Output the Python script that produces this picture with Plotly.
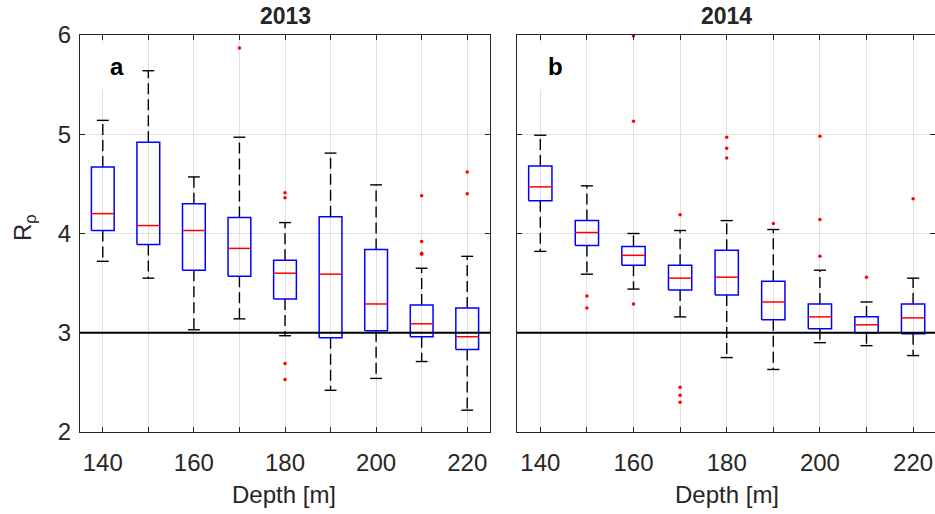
import plotly.graph_objects as go

depths = [140, 150, 160, 170, 180, 190, 200, 210, 220]
major_ticks = [140, 160, 180, 200, 220]
minor_ticks = [150, 170, 190, 210]
y_ticks = [2, 3, 4, 5, 6]
threshold = 3.0

# 2013 (panel a)
a_upper = [5.14, 5.64, 4.57, 4.97, 4.11, 4.81, 4.49, 3.65, 3.77]
a_q3 = [4.67, 4.92, 4.30, 4.16, 3.73, 4.17, 3.84, 3.28, 3.25]
a_med = [4.20, 4.08, 4.03, 3.85, 3.60, 3.59, 3.29, 3.09, 2.96]
a_q1 = [4.03, 3.89, 3.63, 3.57, 3.34, 2.95, 3.02, 2.96, 2.83]
a_lower = [3.72, 3.55, 3.03, 3.14, 2.97, 2.42, 2.54, 2.71, 2.22]
a_out = [[], [], [], [5.87], [4.41, 4.36, 2.69, 2.53], [], [],
         [4.38, 3.92, 3.80, 3.79], [4.62, 4.40]]

# 2014 (panel b)
b_upper = [4.99, 4.48, 4.00, 4.03, 4.13, 4.04, 3.63, 3.31, 3.55]
b_q3 = [4.68, 4.13, 3.87, 3.68, 3.83, 3.52, 3.29, 3.16, 3.29]
b_med = [4.47, 4.01, 3.78, 3.55, 3.56, 3.31, 3.16, 3.08, 3.15]
b_q1 = [4.33, 3.88, 3.68, 3.43, 3.38, 3.13, 3.04, 3.00, 2.99]
b_lower = [3.82, 3.59, 3.44, 3.16, 2.75, 2.63, 2.90, 2.87, 2.77]
b_out = [[], [3.37, 3.25], [5.99, 5.13, 3.29], [4.19, 2.45, 2.37, 2.30],
         [4.97, 4.86, 4.76], [4.10], [4.98, 4.14, 3.77], [3.56], [4.35]]

BOX_HW = 2.5
CAP_HW = 1.3
FONT = "Liberation Sans, Arial, Helvetica, sans-serif"
TXT = "#262626"
GRID = "#e0e0e0"
W, H = 935, 514
L_PX, R_PX, T_PX, B_PX = 0, 0, 35, 82
plot_h = H - T_PX - B_PX

fig = go.Figure()


def add_panel(xa, ya, up, q3, med, q1, lo, outs):
    bx, by, mx, my, wx, wy, cx, cy, ox, oy = [], [], [], [], [], [], [], [], [], []
    for d, u, t, m, b, l, o in zip(depths, up, q3, med, q1, lo, outs):
        bx += [d - BOX_HW, d + BOX_HW, d + BOX_HW, d - BOX_HW, d - BOX_HW, None]
        by += [b, b, t, t, b, None]
        mx += [d - BOX_HW, d + BOX_HW, None]
        my += [m, m, None]
        wx += [d, d, None, d, d, None]
        wy += [t, u, None, b, l, None]
        cx += [d - CAP_HW, d + CAP_HW, None, d - CAP_HW, d + CAP_HW, None]
        cy += [u, u, None, l, l, None]
        for v in o:
            ox.append(d)
            oy.append(v)
    common = dict(xaxis=xa, yaxis=ya, showlegend=False, hoverinfo="skip")
    fig.add_trace(go.Scatter(x=wx, y=wy, mode="lines",
                             line=dict(color="black", width=1.4, dash="11px,5px"), **common))
    fig.add_trace(go.Scatter(x=cx, y=cy, mode="lines",
                             line=dict(color="black", width=1.4), **common))
    fig.add_trace(go.Scatter(x=bx, y=by, mode="lines",
                             line=dict(color="#0000ff", width=1.5), **common))
    fig.add_trace(go.Scatter(x=mx, y=my, mode="lines",
                             line=dict(color="#ff0000", width=1.5), **common))
    fig.add_trace(go.Scatter(x=ox, y=oy, mode="markers",
                             marker=dict(color="#ff0000", size=3.5), **common))


add_panel("x", "y", a_upper, a_q3, a_med, a_q1, a_lower, a_out)
add_panel("x2", "y2", b_upper, b_q3, b_med, b_q1, b_lower, b_out)

xcommon = dict(range=[135, 225], tickvals=major_ticks,
               ticks="inside", ticklen=5, tickcolor=TXT, showline=True,
               linecolor=TXT, linewidth=1, mirror="allticks", showgrid=True,
               gridcolor=GRID, gridwidth=1, zeroline=False, ticklabelstandoff=9,
               minor=dict(tickvals=minor_ticks, ticks="inside", ticklen=5,
                          tickcolor=TXT, showgrid=True, gridcolor=GRID, gridwidth=1),
               tickfont=dict(family=FONT, size=24, color=TXT))
ycommon = dict(range=[2, 6], tickvals=y_ticks, ticks="inside", ticklen=5,
               tickcolor=TXT, showline=True, linecolor=TXT, linewidth=1,
               mirror="allticks", showgrid=True, gridcolor=GRID,
               gridwidth=1, zeroline=False, ticklabelstandoff=3,
               tickfont=dict(family=FONT, size=24, color=TXT))

fig.update_layout(
    width=W, height=H,
    margin=dict(l=L_PX, r=R_PX, t=T_PX, b=B_PX),
    plot_bgcolor="white", paper_bgcolor="white",
    xaxis=dict(domain=[80 / W, 490 / W], anchor="y", **xcommon),
    xaxis2=dict(domain=[517 / W, 1.0], anchor="y2", **{**xcommon, "range": [135, 224.7]}),
    yaxis=dict(domain=[0, 1], anchor="x", **ycommon),
    yaxis2=dict(domain=[0, 1], anchor="x2", showticklabels=False, **ycommon),
    font=dict(family=FONT, color=TXT),
)

# threshold lines
for xr, yr in [("x domain", "y"), ("x2 domain", "y2")]:
    fig.add_shape(type="line", xref=xr, yref=yr, x0=0, x1=1, y0=threshold, y1=threshold,
                  line=dict(color="black", width=2.2), layer="above")


def py(px):
    return (H - B_PX - px) / plot_h


annos = [
    dict(text="<b>2013</b>", x=(80 + 490) / 2 / W, y=py(16), size=23),
    dict(text="<b>2014</b>", x=(517 + 935) / 2 / W, y=py(16), size=23),
    dict(text="Depth [m]", x=284 / W, y=py(494), size=24),
    dict(text="Depth [m]", x=727 / W, y=py(494), size=24),
]
for a in annos:
    fig.add_annotation(text=a["text"], x=a["x"], y=a["y"], xref="paper", yref="paper",
                       showarrow=False, xanchor="center", yanchor="middle",
                       font=dict(family=FONT, size=a["size"], color=TXT))

fig.add_annotation(text="R<sub>ρ</sub>", x=24 / W, y=py(228), xref="paper", yref="paper",
                   showarrow=False, textangle=-90, xanchor="center", yanchor="middle",
                   font=dict(family=FONT, size=24, color=TXT))

for lab, xpx in [("a", 117), ("b", 555)]:
    fig.add_annotation(text="<b>%s</b>" % lab, x=xpx / W, y=py(66), xref="paper", yref="paper",
                       showarrow=False, xanchor="center", yanchor="middle",
                       bgcolor="white", borderpad=9,
                       font=dict(family=FONT, size=24, color="black"))

fig.write_html("out.html")
